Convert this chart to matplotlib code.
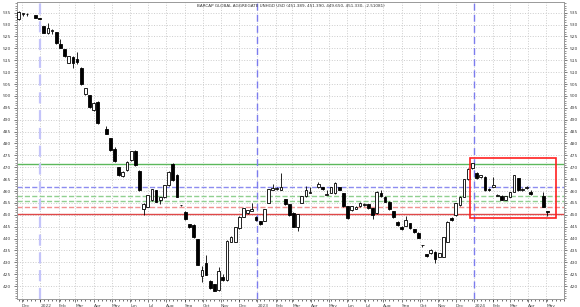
import matplotlib
matplotlib.use("Agg")
import matplotlib.pyplot as plt
import matplotlib.dates as mdates
import matplotlib.ticker as plticker
from matplotlib.patches import Rectangle
import numpy as np
import pandas as pd

title = "BARCAP GLOBAL AGGREGATE UNHGD USD (451.389, 451.390, 449.650, 451.330, -2.51081)"

# weekly bars (Friday), None = no bar
weeks = pd.date_range("2021-11-26", periods=128, freq="7D")

opens = [532.3, 534.5, 534.6, None, 534.0, 532.6, 529.2, 526.4, 527.5, 526.7,
         521.9, 519.7, 514.0, 516.5, 515.5, 511.9, 500.7, 500.4, 494.1, 497.6,
         None, 486.0, 482.2, 477.5, 470.0, 466.3, 468.8, 473.0, 476.9, 468.5,
         452.5, 453.4, 456.2, 460.4, 456.2, 457.3, 462.5, 471.4, 466.7, 454.2,
         451.3, 446.0, 445.7, 439.7, 424.2, 429.8, 422.3, 420.8, 418.3, 424.0,
         422.5, 438.7, 438.7, 444.3, 449.2, 450.6, 451.6, 449.2, 447.4, 447.5,
         455.0, 460.6, 460.7, 460.5, 456.5, 454.4, 450.9, 444.7, 455.1, 457.9,
         459.3, None, 461.6, 461.6, 458.4, 459.3, 459.1, 461.5, 459.1, 453.5,
         452.1, 452.6, 453.5, 454.1, 454.5, 452.8, 450.6, 459.3, 457.6, 455.5,
         451.6, 447.1, 445.0, 445.3, 446.4, 444.0, 442.5, 437.4, 433.4, 433.8,
         434.4, 432.4, 432.4, 438.7, 448.8, 449.9, 454.1, 457.6, 464.9, 469.5,
         467.7, 465.8, 466.0, 460.9, 461.7, 458.1, 458.0, 456.3, 457.6, 459.7,
         465.3, 460.4, 461.2, 459.4, None, None, 457.9, 451.389]

highs = [535.6, 534.8, 534.8, None, 534.2, 532.8, 529.4, 530.8, 528.1, 527.0,
         523.8, 519.9, 517.0, 516.7, 518.6, 512.1, 503.5, 500.6, 497.4, 497.8,
         None, 487.5, 482.4, 478.5, 470.2, 468.3, 472.5, 477.0, 477.1, 468.7,
         455.0, 458.5, 461.0, 460.6, 457.5, 462.7, 468.3, 471.6, 467.0, 454.3,
         451.5, 446.2, 446.0, 440.0, 428.3, 433.0, 422.5, 421.0, 428.1, 425.0,
         439.3, 441.0, 444.9, 449.4, 453.0, 452.2, 455.0, 449.4, 447.6, 452.6,
         460.9, 463.0, 461.5, 467.4, 456.7, 454.6, 451.1, 450.4, 458.1, 462.3,
         461.6, None, 464.0, 461.8, 460.5, 461.8, 464.0, 461.7, 459.3, 453.7,
         453.7, 453.5, 455.2, 454.8, 454.7, 453.0, 459.9, 460.3, 457.8, 455.7,
         451.8, 447.3, 445.2, 449.5, 446.6, 444.2, 442.7, 437.5, 433.6, 435.6,
         434.6, 434.0, 440.8, 447.3, 449.0, 455.0, 457.8, 465.1, 469.6, 471.8,
         467.9, 466.9, 466.2, 461.1, 466.0, 458.7, 458.2, 458.1, 459.7, 466.9,
         465.5, 461.2, 462.1, 460.5, None, None, 459.5, 451.390]

lows = [532.0, 533.8, 533.5, None, 532.6, 532.2, 526.4, 526.2, 526.0, 521.9,
        520.0, 516.5, 513.8, 511.6, 513.5, 504.7, 500.3, 495.0, 493.8, 488.3,
        None, 483.8, 477.0, 472.4, 466.5, 465.8, 468.5, 472.8, 470.7, 460.2,
        449.9, 453.2, 456.0, 455.3, 454.4, 457.0, 462.3, 464.4, 457.4, 453.8,
        447.9, 444.5, 440.3, 428.7, 421.8, 424.5, 418.9, 417.8, 418.1, 422.3,
        422.3, 438.5, 438.5, 444.1, 449.0, 450.4, 451.4, 447.6, 445.9, 447.3,
        454.8, 460.4, 460.5, 460.3, 454.2, 449.7, 444.8, 443.4, 454.9, 457.7,
        459.1, None, 461.4, 460.6, 458.2, 459.1, 458.9, 460.3, 453.3, 448.4,
        451.5, 452.4, 453.3, 453.9, 452.6, 448.2, 450.4, 457.7, 455.3, 452.1,
        448.7, 445.5, 443.7, 445.1, 444.1, 442.4, 440.2, 436.3, 432.4, 433.6,
        429.9, 432.2, 432.2, 438.5, 447.6, 449.7, 453.9, 457.4, 464.7, 469.3,
        465.1, 465.6, 460.2, 460.2, 461.5, 457.9, 456.1, 456.1, 457.4, 459.5,
        460.2, 460.2, 461.0, 458.4, None, None, 453.2, 449.650]

closes = [535.3, 534.7, 534.4, None, 532.8, 532.4, 526.6, 528.7, 527.9, 522.1,
          520.3, 516.8, 516.8, 513.7, 514.3, 504.9, 503.2, 495.2, 497.1, 488.5,
          None, 484.0, 477.2, 472.6, 466.7, 468.1, 472.3, 476.8, 470.9, 460.4,
          454.5, 458.3, 460.7, 455.5, 457.3, 462.5, 468.1, 464.6, 457.6, 454.0,
          448.1, 444.7, 440.5, 428.9, 426.8, 424.7, 419.1, 418.0, 426.5, 422.5,
          439.1, 440.8, 444.7, 449.2, 452.7, 452.0, 452.3, 447.8, 446.1, 452.4,
          460.7, 461.2, 461.3, 461.5, 454.4, 449.9, 445.0, 450.2, 457.9, 460.4,
          459.8, None, 462.8, 460.8, 458.6, 461.6, 463.3, 460.5, 453.5, 448.6,
          453.5, 453.3, 455.0, 454.6, 452.8, 450.0, 459.7, 457.9, 455.5, 452.3,
          448.9, 445.7, 443.9, 447.8, 444.3, 442.6, 440.4, 437.2, 432.6, 435.4,
          431.3, 433.8, 440.6, 447.1, 447.8, 454.8, 457.6, 464.9, 469.4, 471.6,
          465.3, 466.7, 460.4, 460.4, 462.5, 458.5, 456.3, 457.9, 459.5, 466.7,
          460.4, 461.0, 461.9, 458.6, None, None, 453.4, 451.330]

# support / resistance levels
level_values = [471.5, 461.5, 457.8, 455.7, 453.1, 450.3]
level_colors = ['#5cb85c', '#8c8cf0', '#90d090', '#90d090', '#f09090', '#e04848']
level_styles = ['-', '--', '--', '--', '--', '-']

year_starts = ["2022-01-01", "2023-01-01", "2024-01-01"]
year_colors = ['#c4c4fa', '#7c7cee', '#7c7cee']
year_widths = [1.6, 1.0, 1.0]

box_dates = ["2023-12-25", "2024-05-17"]
box_values = [448.5, 473.7]

df = pd.DataFrame({'open': opens, 'high': highs, 'low': lows, 'close': closes}, index=weeks)
df = df.dropna()

fig = plt.figure(figsize=(5.8, 3.07), dpi=100)
ax = fig.add_axes([17/580, 1 - 299/307, (564 - 17)/580, (299 - 2)/307])

x = mdates.date2num(df.index.to_pydatetime())
up = df['close'].values >= df['open'].values

# wicks
ax.vlines(x, df['low'], df['high'], color='black', linewidth=0.6, zorder=3)

# bodies
bottoms = np.minimum(df['open'].values, df['close'].values)
heights = np.maximum(np.abs(df['close'].values - df['open'].values), 0.25)
ax.bar(x[up], heights[up], width=4.6, bottom=bottoms[up], facecolor='white',
       edgecolor='black', linewidth=0.6, zorder=4)
ax.bar(x[~up], heights[~up], width=4.6, bottom=bottoms[~up], facecolor='black',
       edgecolor='black', linewidth=0.6, zorder=4)

for val, col, ls in zip(level_values, level_colors, level_styles):
    ax.axhline(val, color=col, linestyle=ls, linewidth=1.0, zorder=2)

for d, col, lw in zip(year_starts, year_colors, year_widths):
    ax.axvline(mdates.datestr2num(d), color=col, linestyle=(0, (5, 3)),
               linewidth=lw, zorder=2)

bx0 = mdates.datestr2num(box_dates[0])
bx1 = mdates.datestr2num(box_dates[1])
ax.add_patch(Rectangle((bx0, box_values[0]), bx1 - bx0, box_values[1] - box_values[0],
                       fill=False, edgecolor='#ff2020', linewidth=1.2, zorder=5))

ax.set_xlim(mdates.datestr2num("2021-11-23"), mdates.datestr2num("2024-05-31"))
ax.set_ylim(414.6, 539.5)

# axis ticks and labels
ax.xaxis.set_major_locator(mdates.MonthLocator())
ax.xaxis.set_minor_locator(mdates.WeekdayLocator(byweekday=mdates.FR))


def month_fmt(v, pos=None):
    d = mdates.num2date(v)
    return str(d.year) if d.month == 1 else d.strftime('%b')


ax.xaxis.set_major_formatter(plticker.FuncFormatter(month_fmt))
ax.yaxis.set_minor_locator(plticker.MultipleLocator(1))
ax.set_yticks(np.arange(420, 536, 5))

ax.tick_params(axis='y', which='both', left=True, right=True, labelleft=True,
               labelright=True, labelsize=3.2, colors='#444444', pad=1.5)
ax.tick_params(axis='y', which='major', length=2.5, width=0.5)
ax.tick_params(axis='y', which='minor', length=1.2, width=0.4)
ax.tick_params(axis='x', which='major', length=2.5, width=0.5, labelsize=3.2,
               colors='#444444', pad=1)
ax.tick_params(axis='x', which='minor', length=1.2, width=0.4)
for lab in ax.get_xticklabels():
    lab.set_horizontalalignment('left')

ax.grid(True, which='major', color='#cccccc', linestyle=':', linewidth=0.7, zorder=0)
for s in ax.spines.values():
    s.set_color('#999999')
    s.set_linewidth(0.7)

ax.text(0.5, 0.993, title, transform=ax.transAxes, ha='center', va='top',
        fontsize=3.0, color='#333333')

fig.savefig('out.png', dpi=100)
